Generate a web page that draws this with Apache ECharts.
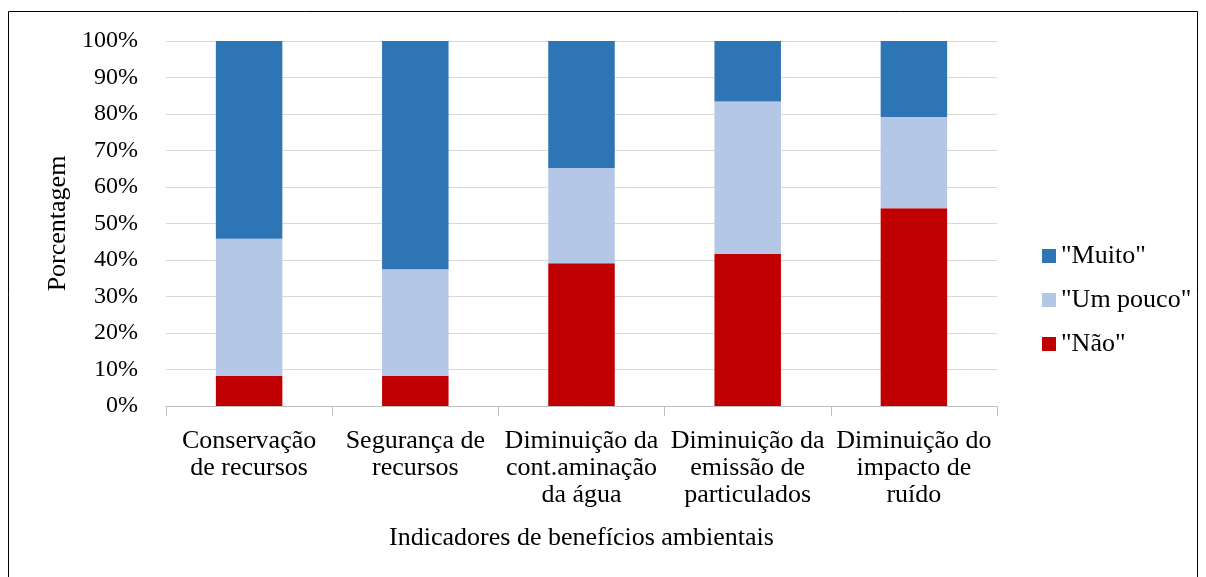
<!DOCTYPE html>
<html>
<head>
<meta charset="utf-8">
<script src="https://cdn.jsdelivr.net/npm/echarts@6/dist/echarts.min.js"></script>
<style>
  html, body { margin: 0; padding: 0; background: #fff; }
  #chart { width: 1206px; height: 577px; }
</style>
</head>
<body>
<div id="chart"></div>
<script>
// categories (x axis)
const categories = [
  'Conservação\nde recursos',
  'Segurança de\nrecursos',
  'Diminuição da\ncont.aminação\nda água',
  'Diminuição da\nemissão de\nparticulados',
  'Diminuição do\nimpacto de\nruído'
]
// percentages per answer
const nao = [8.3, 8.3, 39.1, 41.7, 54.2]
const umPouco = [37.5, 29.2, 26.1, 41.7, 25.0]
const muito = [54.2, 62.5, 34.8, 16.6, 20.8]

const font = '"Liberation Serif", "Times New Roman", serif'
const chart = echarts.init(document.getElementById('chart'))

const bar = (name, data, color) => ({
  name, type: 'bar', stack: 'total', data,
  barWidth: '40%',
  itemStyle: { color },
  emphasis: { disabled: true }
})

chart.setOption({
  animation: false,
  backgroundColor: '#fff',
  textStyle: { fontFamily: font },
  graphic: [{
    type: 'rect',
    shape: { x: 8.5, y: 11.5, width: 1189, height: 600 },
    style: { fill: 'none', stroke: '#000', lineWidth: 1 }
  }],
  grid: { left: 166, right: 209, top: 41, bottom: 171 },
  legend: {
    orient: 'vertical',
    left: 1037, top: 238,
    itemWidth: 14, itemHeight: 14, itemGap: 18,
    icon: 'rect',
    data: ['"Muito"', '"Um pouco"', '"Não"'],
    textStyle: { fontFamily: font, fontSize: 26, color: '#000' }
  },
  xAxis: {
    type: 'category',
    data: categories,
    name: 'Indicadores de benefícios ambientais',
    nameLocation: 'middle',
    nameGap: 119,
    nameTextStyle: { fontFamily: font, fontSize: 26, color: '#000' },
    axisLine: { lineStyle: { color: '#bfbfbf' } },
    axisTick: { show: true, length: 10, lineStyle: { color: '#bfbfbf' } },
    axisLabel: {
      interval: 0, margin: 22, fontFamily: font, fontSize: 26,
      color: '#000', lineHeight: 27
    }
  },
  yAxis: {
    type: 'value',
    min: 0, max: 100, interval: 10,
    name: 'Porcentagem',
    nameLocation: 'middle',
    nameGap: 94,
    nameTextStyle: { fontFamily: font, fontSize: 26, color: '#000' },
    axisLine: { show: false },
    axisTick: { show: false },
    splitLine: { lineStyle: { color: '#d9d9d9' } },
    axisLabel: {
      margin: 28, fontFamily: font, fontSize: 24, color: '#000',
      formatter: '{value}%'
    }
  },
  series: [
    bar('"Não"', nao, '#C00000'),
    bar('"Um pouco"', umPouco, '#B4C7E7'),
    bar('"Muito"', muito, '#2E75B6')
  ]
})
window.addEventListener('resize', () => chart.resize())
</script>
</body>
</html>
